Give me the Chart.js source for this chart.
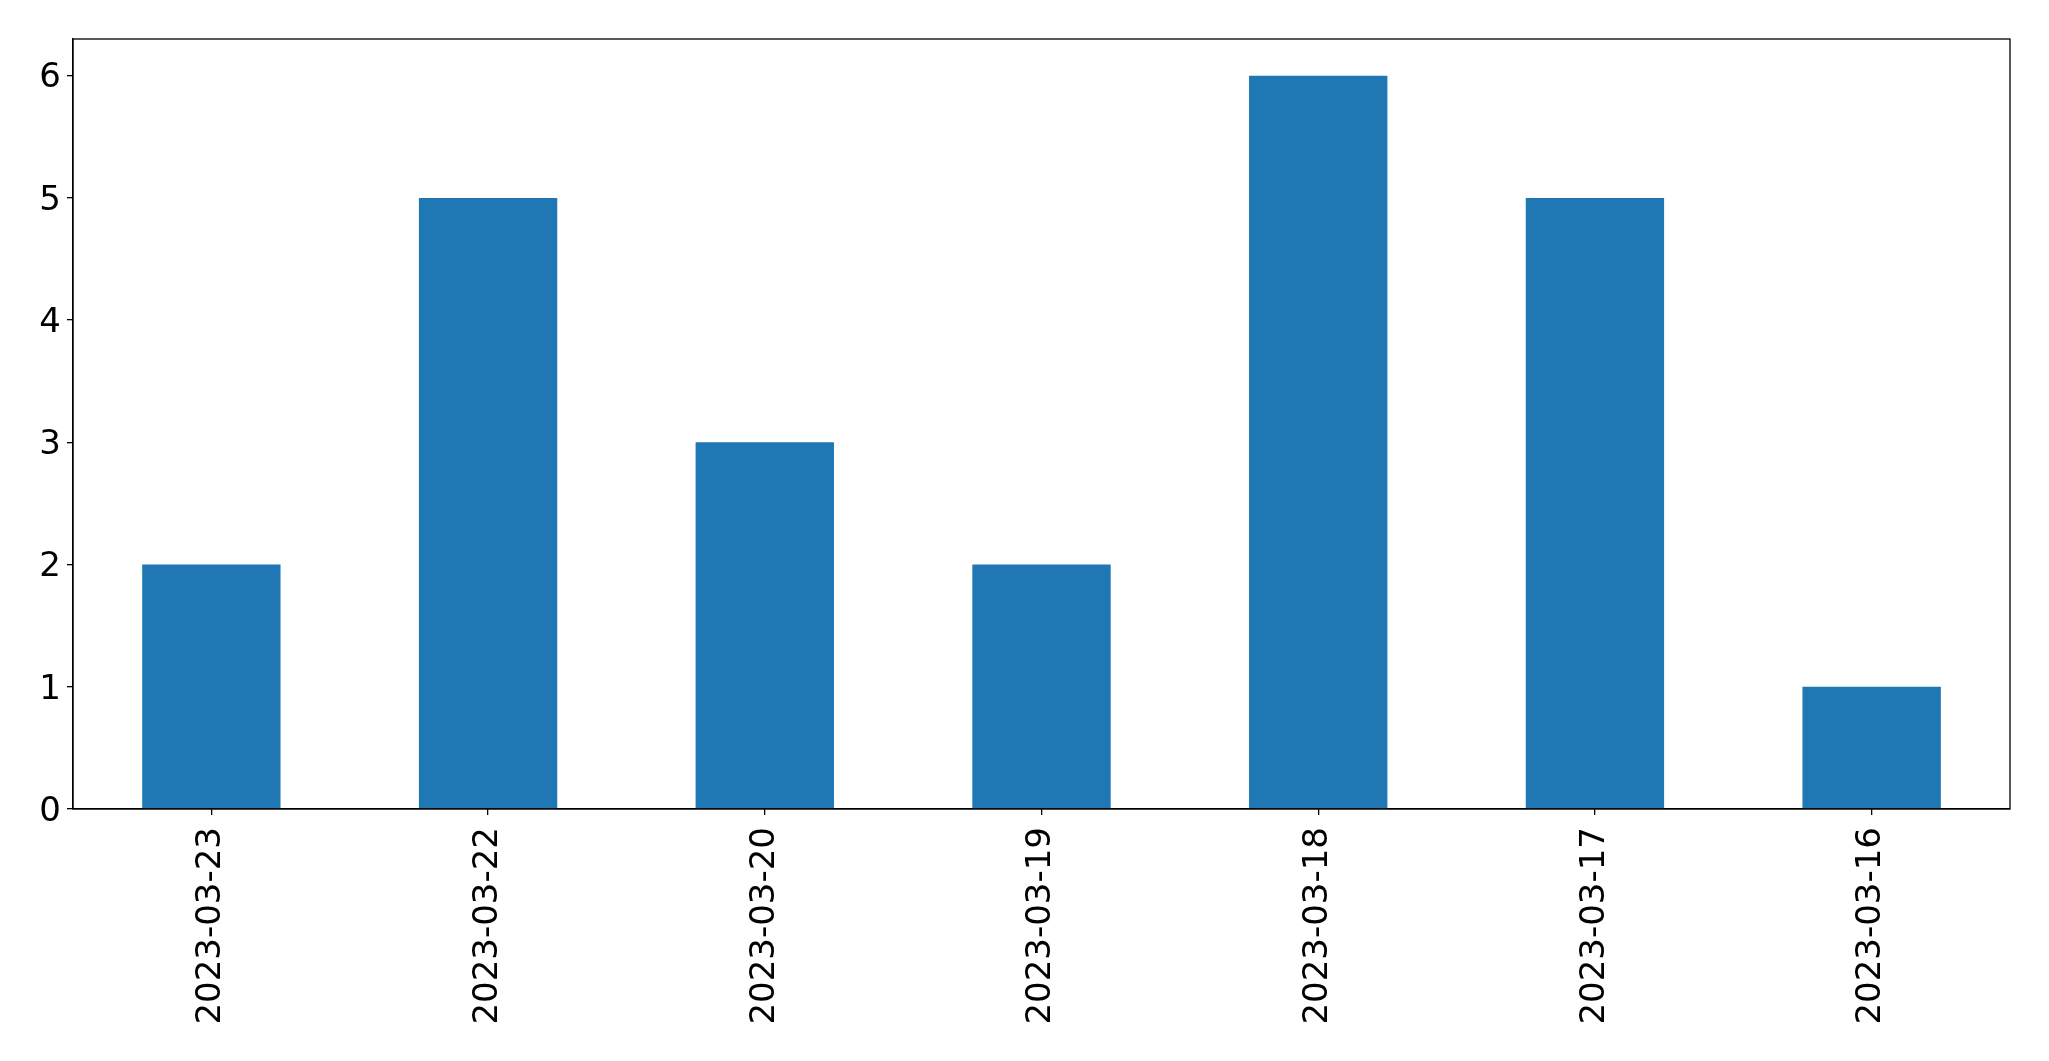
<!DOCTYPE html>
<html>
<head>
<meta charset="utf-8">
<script src="https://cdn.jsdelivr.net/npm/chart.js@4"></script>
<style>
  html, body { margin: 0; padding: 0; background: #fff; }
  #wrap { width: 2049px; height: 1061px; }
</style>
</head>
<body>
<div id="wrap"><canvas id="barChart" width="2049" height="1061"></canvas></div>
<script>
var dates = ['2023-03-23', '2023-03-22', '2023-03-20', '2023-03-19', '2023-03-18', '2023-03-17', '2023-03-16'];
var counts = [2, 5, 3, 2, 6, 5, 1];
var yTicks = [0, 1, 2, 3, 4, 5, 6];

// draws the box round the plot area, like matplotlib's spines
var frame = {
  id: 'frame',
  afterDraw: function(chart){
    var a = chart.chartArea, ctx = chart.ctx;
    ctx.save();
    ctx.strokeStyle = '#000';
    ctx.lineWidth = 1.3;
    ctx.strokeRect(a.left, a.top, a.right - a.left, a.bottom - a.top);
    ctx.restore();
  }
};

Chart.defaults.font.family = 'DejaVu Sans';
Chart.defaults.color = '#000';

var ctx = document.getElementById('barChart').getContext('2d');
var chart = new Chart(ctx, {
  type: 'bar',
  data: {
    labels: dates,
    datasets: [{data: counts, backgroundColor: '#1f77b4', categoryPercentage: 1, barPercentage: 0.5}]
  },
  options: {
    responsive: false,
    animation: false,
    layout: {padding: {top: 39, right: 39, left: 0, bottom: 0}},
    plugins: {legend: {display: false}, tooltip: {enabled: false}},
    scales: {
      x: {
        grid: {display: true, offset: false, drawOnChartArea: false, tickLength: 6, color: '#000', lineWidth: 1.3},
        border: {display: true, color: '#000', width: 1.3},
        ticks: {font: {size: 34}, minRotation: 90, maxRotation: 90, padding: 12},
        afterFit: function(s){ s.height = 252; }
      },
      y: {
        min: 0,
        max: 6.3,
        afterBuildTicks: function(s){ s.ticks = yTicks.map(function(v){ return {value: v}; }); },
        grid: {display: true, drawOnChartArea: false, tickLength: 6, color: '#000', lineWidth: 1.3},
        border: {display: true, color: '#000', width: 1.3},
        ticks: {font: {size: 34}, padding: 6, labelOffset: 3},
        afterFit: function(s){ s.width = 73; }
      }
    }
  },
  plugins: [frame]
});
</script>
</body>
</html>
